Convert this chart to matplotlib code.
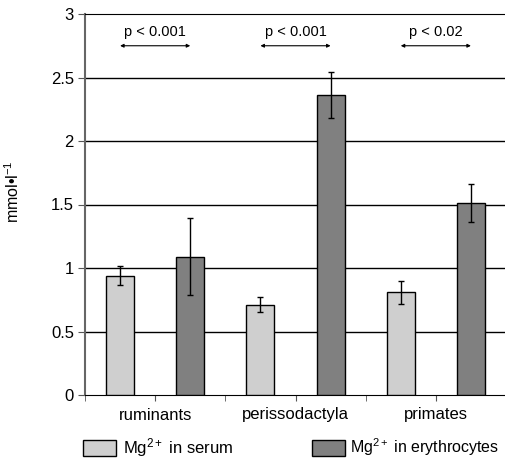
import numpy as np
import matplotlib
matplotlib.use('Agg')
from matplotlib import pyplot as plt
from matplotlib.patches import Patch

plt.rcParams['font.family'] = ['Liberation Sans', 'DejaVu Sans']
plt.rcParams['mathtext.fontset'] = 'custom'
plt.rcParams['mathtext.rm'] = 'Liberation Sans'
plt.rcParams['mathtext.it'] = 'Liberation Sans'

groups = ['ruminants', 'perissodactyla', 'primates']
serum = [0.94, 0.71, 0.81]
serum_err = [0.075, 0.06, 0.09]
eryth = [1.09, 2.36, 1.51]
eryth_err = [0.30, 0.18, 0.15]
pvals = ['p < 0.001', 'p < 0.001', 'p < 0.02']

c_serum = '#cfcfcf'
c_eryth = '#808080'

fig = plt.figure(figsize=(5.05, 4.59), dpi=100)
ax = fig.add_axes([85/505., 1-395/459., 421/505., 381/459.])

x = np.arange(len(groups))
w = 0.2
ax.bar(x-0.25, serum, w, color=c_serum, edgecolor='black', lw=1, zorder=3)
ax.bar(x+0.25, eryth, w, color=c_eryth, edgecolor='black', lw=1, zorder=3)
ax.errorbar(x-0.25, serum, yerr=serum_err, fmt='none', ecolor='black', elinewidth=1, capsize=2, capthick=1, zorder=4)
ax.errorbar(x+0.25, eryth, yerr=eryth_err, fmt='none', ecolor='black', elinewidth=1, capsize=2, capthick=1, zorder=4)

for i, p in enumerate(pvals):
    ax.annotate('', xy=(i-0.25, 2.75), xytext=(i+0.25, 2.75),
                arrowprops=dict(arrowstyle='<|-|>', color='black', lw=0.8,
                                mutation_scale=5, shrinkA=0, shrinkB=0))
    ax.text(i, 2.86, p, ha='center', va='center', fontsize=10.5)

ax.set_xlim(-0.5, 2.5)
ax.set_ylim(0, 3)
ax.set_yticks([0, 0.5, 1, 1.5, 2, 2.5, 3])
ax.set_yticklabels(['0', '0.5', '1', '1.5', '2', '2.5', '3'], fontsize=12)
ax.set_xticks(x)
ax.set_xticklabels(groups, fontsize=12)
ax.set_xticks([-0.5, 0.5, 1.5, 2.5], minor=True)
ax.tick_params(axis='x', which='both', length=4, color='#555555', pad=5)
ax.tick_params(axis='y', length=5, color='#555555', pad=3)
for yv in [0.5, 1, 1.5, 2, 2.5]:
    ax.axhline(yv, color='black', lw=1, zorder=1)
ax.spines['right'].set_visible(False)
ax.spines['top'].set_color('black')
ax.spines['left'].set_color('#666666')
ax.spines['left'].set_linewidth(1.5)
ax.spines['bottom'].set_color('black')

fig.text(13/505., 1-192/459., 'mmol•l$^{-1}$', rotation=90, ha='center', va='center', fontsize=11.5)

fig.legend(handles=[Patch(facecolor=c_serum, edgecolor='black', lw=1)],
           labels=['Mg$^{2+}$ in serum'], loc='center left',
           bbox_to_anchor=(83/505., 1-447.5/459.), frameon=False, fontsize=12,
           handlelength=2.0, handleheight=1.1, handletextpad=0.4,
           borderpad=0, borderaxespad=0)
fig.legend(handles=[Patch(facecolor=c_eryth, edgecolor='black', lw=1)],
           labels=['Mg$^{2+}$ in erythrocytes'], loc='center left',
           bbox_to_anchor=(312/505., 1-447.5/459.), frameon=False, fontsize=11.5,
           handlelength=2.05, handleheight=1.15, handletextpad=0.35,
           borderpad=0, borderaxespad=0)

plt.savefig('out.png', dpi=100)
